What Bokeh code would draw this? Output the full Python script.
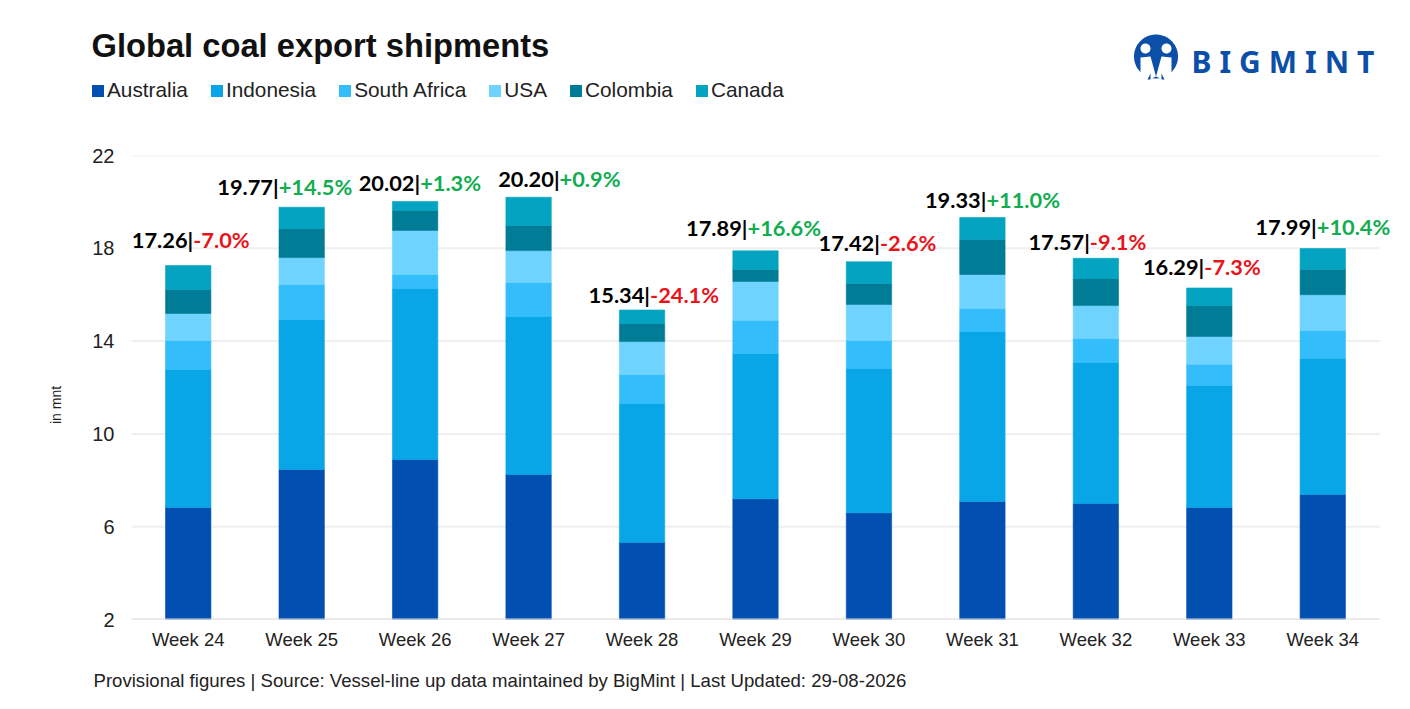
import numpy as np
from bokeh.core.properties import value
from bokeh.layouts import column, row
from bokeh.plotting import figure
from bokeh.models import (ColumnDataSource, FactorRange, FixedTicker, Label, LabelSet, Legend, LegendItem,
                          PolyAnnotation, Range1d)
from bokeh.embed import file_html
from bokeh.resources import INLINE

weeks = ["Week 24","Week 25","Week 26","Week 27","Week 28","Week 29","Week 30","Week 31","Week 32","Week 33","Week 34"]
australia = [6.83,8.47,8.90,8.25,5.32,7.20,6.60,7.09,7.00,6.83,7.39]
indonesia = [5.95,6.46,7.37,6.81,5.99,6.27,6.22,7.32,6.08,5.26,5.86]
south_africa = [1.25,1.51,0.60,1.47,1.25,1.42,1.21,0.99,1.03,0.91,1.21]
usa = [1.16,1.16,1.90,1.37,1.42,1.68,1.55,1.47,1.42,1.20,1.54]
colombia = [1.03,1.25,0.86,1.08,0.78,0.52,0.90,1.51,1.17,1.33,1.09]
canada = [1.04,0.92,0.39,1.22,0.58,0.80,0.94,0.95,0.87,0.76,0.90]
totals = [17.26,19.77,20.02,20.20,15.34,17.89,17.42,19.33,17.57,16.29,17.99]
totals_text = ["17.26","19.77","20.02","20.20","15.34","17.89","17.42","19.33","17.57","16.29","17.99"]
changes = ["-7.0%","+14.5%","+1.3%","+0.9%","-24.1%","+16.6%","-2.6%","+11.0%","-9.1%","-7.3%","+10.4%"]
y_ticks = [2,6,10,14,18,22]
names = ["Australia","Indonesia","South Africa","USA","Colombia","Canada"]

colors = ["#004FB1","#08A6E6","#33BDFB","#6FD3FF","#007C97","#04A3C1"]
label_dx = [2,-26,2,28,5,-11,8,1,-9,-8,-9]
label_dy = [26,21,19,19,16,23,19,18,17,21,22]

W = 1394
HEAD, MAIN, FOOT = 110, 552, 31
PAD = 15            # px of frame beyond the first and last category band
BAND = 1248 / 11
LOGO = "#0B4FA8"
INK = "#222222"

def blank(height):
    f = figure(width=W, height=height, x_range=Range1d(0, W), y_range=Range1d(0, height),
               output_backend="svg", toolbar_location=None,
               min_border_left=0, min_border_right=0, min_border_top=0, min_border_bottom=0)
    f.axis.visible = False
    f.grid.visible = False
    f.outline_line_color = None
    return f

# ---- header: title, legend, logo
head = blank(HEAD)
def hlabel(fig, fig_h, x, y, text, **k):
    fig.add_layout(Label(x=x, y=fig_h - y, x_units="screen", y_units="screen", text=text, **k))

hlabel(head, HEAD, 91, 45, "Global coal export shipments", text_font="Liberation Sans", text_font_style="bold",
       text_font_size="32.7px", text_color="#111111", text_baseline="middle")
# off-range bars: they only give the legend its swatches
swatches = [head.vbar(x=[-50], top=[-50], bottom=[-60], width=1, color=c, line_width=0) for c in colors]
head.add_layout(Legend(items=[LegendItem(label=n, renderers=[r]) for n, r in zip(names, swatches)],
                       orientation="horizontal", location=(90, 8), spacing=21, glyph_width=15, glyph_height=15,
                       label_standoff=2, padding=0, margin=0, border_line_color=None, background_fill_alpha=0,
                       label_text_font="Liberation Sans", label_text_font_size="20.8px", label_text_color=INK,
                       label_height=22))
hlabel(head, HEAD, 1191, 61, "\u2009\u200a".join("BIGMINT"), text_font="Noto Sans", text_font_style="bold",
       text_font_size="30px", text_color=LOGO, text_baseline="middle")

def poly(xs, ys, color):
    head.add_layout(PolyAnnotation(xs=list(xs), ys=[HEAD - y for y in ys], xs_units="screen", ys_units="screen",
                                   fill_color=color, fill_alpha=1, line_color=None))
def disc(cx, cy, r, color):
    t = np.linspace(0, 2*np.pi, 60)
    poly(cx + r*np.cos(t), cy + r*np.sin(t), color)
disc(1155.5, 56, 22, LOGO)
disc(1145, 48, 5, "#FFFFFF")
disc(1166, 48, 5, "#FFFFFF")
poly([1140,1150,1155.5,1147,1140], [57,56,76,80,79], "#FFFFFF")
poly([1171,1161,1155.5,1164,1171], [57,56,76,80,79], "#FFFFFF")
poly([1147,1150,1150,1148], [79,73,79,79], LOGO)
poly([1164,1161,1161,1163], [79,73,79,79], LOGO)

# ---- chart
p = figure(width=W, height=MAIN,
           x_range=FactorRange(factors=weeks, range_padding=PAD/BAND, range_padding_units="absolute", factor_padding=0),
           y_range=(2,22), output_backend="svg", toolbar_location=None,
           min_border_left=131 - PAD, min_border_right=W - 1379 - PAD, min_border_top=155 - HEAD, min_border_bottom=HEAD + MAIN - 619)
p.outline_line_color = None
p.grid.visible = False
p.yaxis.ticker = FixedTicker(ticks=y_ticks)
p.yaxis.axis_line_color = None
p.yaxis.major_tick_line_color = None
p.yaxis.minor_tick_line_color = None
p.yaxis.major_tick_out = 0
p.yaxis.major_tick_in = 0
p.yaxis.major_label_text_font = "Liberation Sans"
p.yaxis.major_label_text_font_size = "20px"
p.yaxis.major_label_text_color = INK
p.yaxis.major_label_standoff = 2
p.yaxis.axis_label = "in mnt" + "\u00a0" * 9
p.yaxis.axis_label_text_font = "Liberation Sans"
p.yaxis.axis_label_text_font_style = "normal"
p.yaxis.axis_label_text_font_size = "14px"
p.yaxis.axis_label_text_color = INK
p.yaxis.axis_label_standoff = 25
p.xaxis.axis_line_color = None
p.xaxis.major_tick_line_color = None
p.xaxis.minor_tick_line_color = None
p.xaxis.major_label_text_font = "Liberation Sans"
p.xaxis.major_label_text_font_size = "18.5px"
p.xaxis.major_label_text_color = INK
p.xaxis.major_label_standoff = 3

# grid and baseline stop at the first and last band, not at the frame edge
rule = dict(x0=[(weeks[0], -0.5)] * len(y_ticks), x1=[(weeks[-1], 0.5)] * len(y_ticks), y0=y_ticks, y1=y_ticks)
p.segment("x0", "y0", "x1", "y1", source=ColumnDataSource(rule), line_color="#EFEFEF", line_width=2, level="underlay")

data = dict(week=weeks, Australia=australia, Indonesia=indonesia, USA=usa, Colombia=colombia, Canada=canada)
data["South Africa"] = south_africa
p.vbar_stack(names, x="week", width=0.4, color=colors, source=ColumnDataSource(data), line_width=0.6)
p.segment([(weeks[0], -0.5)], [y_ticks[0]], [(weeks[-1], 0.5)], [y_ticks[0]], line_color="#DDDDDD", line_width=2)

lab = ColumnDataSource(dict(week=weeks, total=totals,
                            left=[t + "|" for t in totals_text], right=changes,
                            rc=["#E8141C" if c.startswith("-") else "#12AD50" for c in changes],
                            dxl=[d + 3 for d in label_dx], dy=label_dy))
label_style = dict(text_baseline="middle", text_font=value("Lato"), text_font_style="bold", text_font_size="21.8px")
p.add_layout(LabelSet(x="week", y="total", text="left", source=lab, x_offset="dxl", y_offset="dy",
                      text_align="right", text_color="#000000", **label_style))
p.add_layout(LabelSet(x="week", y="total", text="right", source=lab, x_offset="dxl", y_offset="dy",
                      text_align="left", text_color="rc", **label_style))

# ---- footer
foot = blank(FOOT)
hlabel(foot, FOOT, 93, 680 - HEAD - MAIN, "Provisional figures | Source: Vessel-line up data maintained by BigMint | Last Updated: 29-08-2026",
       text_font="Liberation Sans", text_font_size="18.6px", text_color=INK, text_baseline="middle")

page = column(head, row(p), foot, spacing=0)
open("out.html", "w").write(file_html(page, INLINE))
